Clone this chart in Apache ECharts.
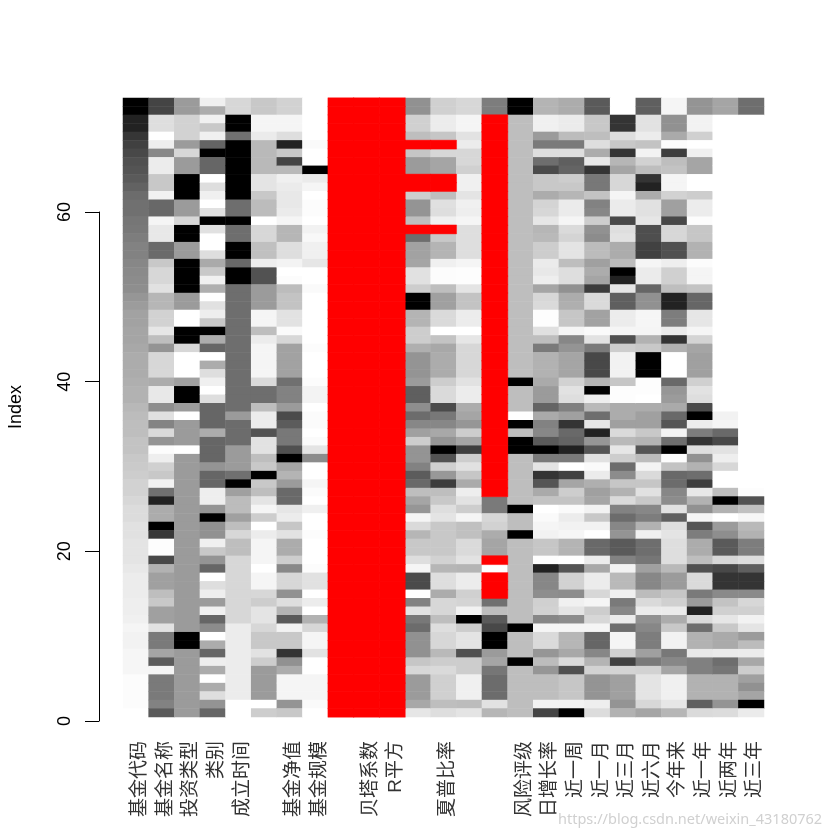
<!DOCTYPE html>
<html><head><meta charset="utf-8">
<style>html,body{margin:0;padding:0;background:#fff}#c{width:840px;height:840px}</style>
<script src="https://cdn.jsdelivr.net/npm/echarts@6/dist/echarts.min.js"></script>
</head><body><div id="c"></div>
<script>
// Grey levels, each column listed from the top row down. R = missing value (drawn red).
const R = -1;
const columnLabels = ['基金代码','基金名称','投资类型','类别','成立时间','','基金净值','基金规模','','贝塔系数','R平方','','夏普比率','','','风险评级','日增长率','近一周','近一月','近三月','近六月','今年来','近一年','近两年','近三年'];
const yTicks = [0,20,40,60];
const fundCode = [0,0,34,34,54,64,72,80,84,90,98,108,112,
112,118,120,125,130,130,135,138,140,142,150,156,
162,162,165,165,168,172,172,172,175,178,178,184,
188,190,190,195,195,200,202,205,210,210,215,220,
220,225,225,228,228,228,232,236,236,236,238,238,
240,245,242,242,246,246,246,252,252,252,252,255];
const fundName = [68,68,222,222,255,238,136,236,236,200,200,242,104,
104,245,232,232,106,106,200,215,215,225,182,182,
210,210,230,190,148,215,215,215,172,232,232,142,
225,132,218,148,252,238,208,200,242,112,34,172,
172,0,55,253,253,72,178,160,160,190,200,160,
160,226,122,122,165,92,245,122,122,122,130,90];
const investType = [155,155,210,210,210,155,215,155,155,0,0,0,155,
155,215,0,0,155,155,0,0,0,0,155,155,
255,255,0,0,215,255,255,255,160,0,0,155,
255,155,155,155,255,155,155,155,155,155,155,155,
155,155,155,155,155,155,155,155,155,155,155,155,
155,155,0,0,155,155,155,155,155,155,155,155];
const category = [240,172,240,200,240,100,0,102,102,255,222,240,255,
225,0,225,255,255,222,170,200,240,175,255,225,
238,200,0,172,102,255,172,222,240,255,222,102,
102,102,172,102,102,102,148,102,102,238,238,148,
0,145,145,240,200,148,102,255,222,238,155,240,
102,140,255,172,102,238,172,255,172,222,148,102];
const founded = [215,215,0,0,112,0,0,0,0,0,0,0,110,
110,0,110,110,0,0,105,0,0,110,110,110,
110,110,110,110,110,110,110,110,110,110,110,110,
155,108,108,108,155,155,155,112,0,160,188,188,
160,190,215,190,190,215,215,215,215,215,215,215,
215,236,236,236,236,236,236,236,236,236,255,255];
const col6 = [200,200,245,245,235,185,185,185,185,228,228,200,188,
188,255,215,215,192,192,238,82,82,155,155,155,
245,245,190,236,245,245,245,245,218,110,110,190,
236,236,82,226,226,190,200,0,200,190,228,245,
205,255,236,245,245,245,255,245,245,215,205,228,
228,215,200,200,226,205,155,155,155,155,255,205];
const nav = [210,210,245,245,222,34,200,68,185,240,235,232,232,
235,245,182,182,222,222,243,255,252,188,195,195,
226,226,250,215,162,162,162,162,112,130,130,155,
75,92,120,120,80,0,165,180,155,105,105,230,
236,198,226,172,172,205,136,215,215,145,222,180,
90,242,200,200,52,145,172,245,245,245,148,200];
const scale = [255,255,255,255,255,250,255,255,0,235,245,255,252,
252,255,242,248,240,240,230,255,255,250,255,255,
255,255,255,255,252,255,255,255,252,243,243,255,
251,251,255,251,228,140,255,255,245,251,255,240,
255,255,252,255,255,255,252,225,225,255,236,255,
178,215,245,245,226,255,255,245,245,245,250,255];
const col9 = [R,R,R,R,R,R,R,R,R,R,R,R,R,R,R,R,R,R,R,R,R,R,R,R,R,R,R,R,R,R,R,R,R,R,R,R,R,R,R,R,R,R,R,R,R,R,R,R,R,R,R,R,R,R,R,R,R,R,R,R,R,R,R,R,R,R,R,R,R,R,R,R,R];
const beta = col9.slice();
const rSquare = col9.slice();
const col12 = [145,145,208,208,190,R,198,155,155,R,R,205,148,
148,190,R,110,162,162,165,225,225,205,0,0,
180,180,205,205,175,148,148,148,155,95,95,142,
108,135,160,205,148,148,130,92,105,190,165,150,
245,218,182,200,200,222,245,75,75,255,130,226,
120,108,145,145,145,198,215,155,155,155,168,230];
const sharpe = [208,208,236,236,198,R,215,165,165,R,R,190,224,
222,240,R,200,180,180,240,252,252,190,160,160,
218,218,255,195,168,172,172,172,205,218,218,75,
120,135,168,148,0,82,208,152,60,190,200,222,
228,200,200,200,200,210,182,222,222,172,215,215,
190,222,215,215,185,205,218,208,208,208,190,222];
const col14 = [215,215,245,245,226,236,215,215,208,240,240,228,240,
238,245,222,222,222,222,245,253,253,228,195,195,
236,236,255,230,215,215,215,215,226,236,236,172,
165,150,205,165,62,205,225,198,170,238,226,205,
245,192,192,218,218,226,180,236,236,208,212,242,
0,205,228,228,80,205,205,240,240,240,188,228];
const col15 = [125,125,R,R,R,R,R,R,R,R,R,R,R,
R,R,R,R,R,R,R,R,R,R,R,R,
R,R,R,R,R,R,R,R,R,R,R,R,
R,R,R,R,R,R,R,R,R,R,122,122,
215,210,172,165,165,R,255,R,R,R,112,190,
90,72,0,0,155,165,118,108,108,108,226,182];
const risk = [0,0,190,190,190,190,190,190,190,190,190,190,190,
190,190,190,190,190,190,190,190,190,190,190,190,
190,190,190,190,190,190,190,190,0,190,190,190,
255,0,190,0,0,190,190,190,190,190,190,0,
190,190,0,190,190,190,190,190,190,190,190,190,
190,0,190,190,190,0,190,190,190,190,190,190];
const daily = [180,180,240,240,155,122,222,110,75,200,200,172,212,
215,230,182,185,205,205,235,232,238,165,215,218,
253,253,224,190,122,178,178,178,170,155,155,100,
170,130,135,90,0,122,228,52,85,170,195,255,
250,245,242,198,198,253,34,135,135,142,208,210,
135,245,218,218,150,188,150,190,190,190,242,68];
const week1 = [172,172,235,235,188,122,222,95,100,205,200,182,235,
235,245,218,212,228,228,190,222,222,145,172,175,
198,198,245,135,148,165,165,165,210,226,222,128,
160,52,105,100,34,122,255,65,165,205,195,250,
236,242,246,180,180,255,85,210,210,140,240,228,
140,245,182,182,168,218,80,198,198,198,242,0];
const month1 = [90,90,200,200,190,222,172,232,52,120,120,195,130,
135,205,145,140,188,188,160,172,165,60,218,218,
162,162,250,226,122,72,72,72,180,0,238,185,
110,230,34,150,85,225,250,235,175,160,165,242,
200,242,255,105,105,236,168,236,236,215,245,205,
215,245,102,102,135,180,210,148,148,148,238,220];
const month3 = [255,255,52,52,222,200,52,182,165,215,215,245,235,
235,72,222,226,172,172,188,0,34,230,95,95,
236,236,245,80,205,242,242,242,198,253,253,172,
172,160,218,185,230,205,108,140,198,178,218,130,
108,135,148,90,90,130,242,185,185,240,122,135,
235,110,245,245,208,65,212,160,160,160,148,178];
const month6 = [95,95,226,226,236,195,243,210,190,52,34,172,225,
225,230,78,78,65,65,245,235,235,102,145,145,
246,246,245,178,200,0,0,0,253,253,255,172,
160,160,200,180,85,188,243,218,198,225,200,135,
125,178,240,110,110,118,160,135,135,188,218,235,
145,135,125,125,160,122,210,228,228,228,215,165];
const ytd = [245,245,145,145,170,252,62,190,195,245,245,210,160,
160,72,215,215,80,80,238,208,208,190,34,34,
125,125,235,52,178,255,255,255,105,150,155,170,
105,85,243,110,0,253,195,105,108,135,140,225,
95,222,228,222,222,222,185,155,155,198,208,235,
172,200,242,242,120,135,165,240,240,240,230,182];
const year1 = [148,148,242,242,208,255,240,165,165,255,255,205,236,
236,252,198,198,178,178,252,245,245,195,102,102,
230,230,245,212,165,160,160,160,208,226,222,75,
0,236,125,52,222,145,178,110,62,232,178,145,
245,85,125,172,172,190,80,218,218,122,155,34,
218,110,178,178,232,128,128,178,178,178,95,218];
const year2 = [165,165,255,255,255,255,255,255,255,255,255,255,255,
255,255,255,255,255,255,255,255,255,255,255,255,
255,255,255,255,255,255,255,255,255,255,255,255,
242,245,105,72,226,238,215,255,255,190,0,178,
255,155,142,90,90,215,72,52,52,138,195,208,
230,200,170,170,235,110,118,178,178,178,148,220];
const year3 = [110,110,255,255,255,255,255,255,255,255,255,255,255,
255,255,255,255,255,255,255,255,255,255,255,255,
255,255,255,255,255,255,255,255,255,255,255,255,
255,255,255,255,255,255,255,255,255,253,82,192,
246,185,178,125,125,222,95,52,52,138,215,208,
242,228,155,188,236,168,205,160,145,165,0,235];

const columns = [fundCode,fundName,investType,category,founded,col6,nav,scale,col9,beta,rSquare,col12,sharpe,col14,col15,risk,daily,week1,month1,month3,month6,ytd,year1,year2,year3];
const rowNames = fundCode.map((_, i) => String(i));
const greyCells = [], missingCells = [];
columns.forEach((col, x) => col.forEach((v, y) => {
  if (v === R) missingCells.push([x, y, 1]); else greyCells.push([x, y, v]);
}));

const chart = echarts.init(document.getElementById('c'), null, {renderer:'canvas'});
const FONT = '"Liberation Sans", Arial, sans-serif';
const LABEL_FONT = '"Liberation Sans", "Noto Sans CJK SC", sans-serif';
chart.setOption({
  animation:false,
  backgroundColor:'#fff',
  grid:[
    {left:123, top:98, width:641, height:619},
    {left:99, top:212, width:20, height:509}
  ],
  xAxis:[
    {type:'category', gridIndex:0, data:columnLabels, axisLine:{show:false}, axisTick:{show:false}, splitLine:{show:false},
     axisLabel:{interval:0, rotate:90, margin:24, fontFamily:LABEL_FONT, fontSize:19, color:'#333',
       formatter:function(v){ return v ? '{a|' + v + '}' : ''; },
       rich:{a:{padding:[8,0,0,0], fontFamily:LABEL_FONT, fontSize:19, color:'#333'}}}},
    {type:'value', gridIndex:1, show:false, min:0, max:1}
  ],
  yAxis:[
    {type:'category', gridIndex:0, data:rowNames, inverse:true, show:false},
    {type:'value', gridIndex:1, min:yTicks[0], max:yTicks[yTicks.length-1], interval:20, position:'left',
     splitLine:{show:false},
     axisLine:{show:true, lineStyle:{color:'#000', width:1}},
     axisTick:{show:true, length:14, lineStyle:{color:'#000', width:1}},
     axisLabel:{rotate:90, margin:25, fontFamily:FONT, fontSize:18, color:'#000'}}
  ],
  visualMap:{show:false, type:'continuous', dimension:2, seriesIndex:0, min:0, max:255,
    inRange:{color:['#000000','#ffffff']}},
  series:[
    {type:'heatmap', xAxisIndex:0, yAxisIndex:0, data:greyCells, progressive:0, itemStyle:{borderWidth:0, opacity:1}, emphasis:{disabled:true}},
    {type:'heatmap', xAxisIndex:0, yAxisIndex:0, data:missingCells, progressive:0, itemStyle:{color:'#ff0000', opacity:1, borderColor:'#ff0000', borderWidth:0.4}, emphasis:{disabled:true}}
  ],
  graphic:[
    {type:'text', x:16, y:407, rotation:Math.PI/2, style:{text:'Index', fontFamily:FONT, fontSize:18, fill:'#000', textAlign:'center', textVerticalAlign:'middle'}},
    {type:'text', left:558, top:812, style:{text:'https://blog.csdn.net/weixin_43180762', fontFamily:'"Noto Sans", sans-serif', fontSize:14.5, fill:'#d0d0d0'}}
  ]
});
</script></body></html>
